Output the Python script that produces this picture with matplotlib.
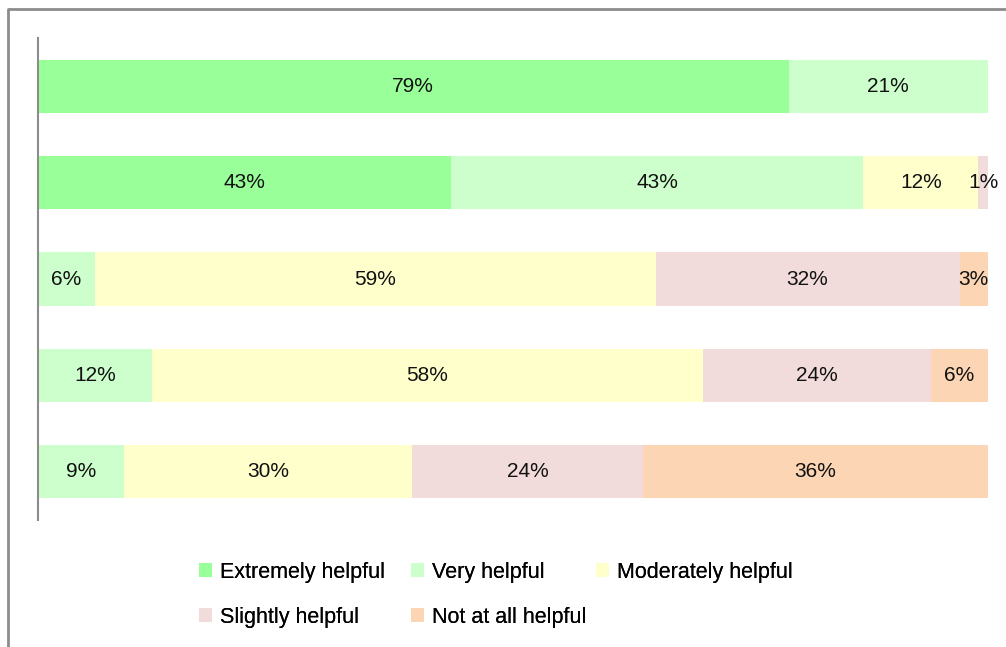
import matplotlib
matplotlib.use("Agg")
import matplotlib.pyplot as plt
from matplotlib.lines import Line2D
import numpy as np

plt.rcParams["font.family"] = ["Liberation Sans", "DejaVu Sans"]

categories = ["Extremely helpful", "Very helpful", "Moderately helpful",
              "Slightly helpful", "Not at all helpful"]
colors = ["#99FF99", "#CCFFCC", "#FFFFCC", "#F2DCDB", "#FCD5B4"]

# one list per response level, one value per bar (top to bottom), in %
extremely = [79, 43, 0, 0, 0]
very = [21, 43, 6, 12, 9]
moderately = [0, 12, 59, 58, 30]
slightly = [0, 1, 32, 24, 24]
not_at_all = [0, 0, 3, 6, 36]

series = np.array([extremely, very, moderately, slightly, not_at_all], dtype=float)
# 100% stacked, like the original chart
shares = series / series.sum(axis=0) * 100
rows = np.arange(series.shape[1])

fig = plt.figure(figsize=(10.06, 6.47), dpi=100)
ax = fig.add_axes([38 / 1006, 1 - 520 / 647, 950 / 1006, 482 / 647])

left = np.zeros(len(rows))
handles = []
for name, color, vals, shown in zip(categories, colors, shares, series):
    bars = ax.barh(rows, vals, left=left, height=0.55, color=color, label=name)
    handles.append(bars)
    for y, x0, w, v in zip(rows, left, vals, shown):
        if v > 0:
            ax.text(x0 + w / 2, y, f"{v:.0f}%", ha="center", va="center",
                    fontsize=15, color="#111111")
    left += vals

ax.set_xlim(0, 100)
ax.set_ylim(4.5, -0.5)
ax.set_xticks([])
ax.set_yticks([])
for side in ["top", "right", "bottom"]:
    ax.spines[side].set_visible(False)
ax.spines["left"].set_color("#8c8c8c")
ax.spines["left"].set_linewidth(1.5)

# legend laid out as in the original: three columns, filled row by row
columns = [[0, 3], [1, 4], [2]]
col_x = [199, 411, 596]
for idx, x in zip(columns, col_x):
    leg = fig.legend([handles[i] for i in idx], [categories[i] for i in idx],
                     loc="upper left", bbox_to_anchor=(x / 1006, 1 - 562 / 647),
                     frameon=False, fontsize=15.5, handlelength=0.62,
                     handleheight=0.62, handletextpad=0.35, labelspacing=1.1,
                     borderaxespad=0, borderpad=0)
    fig.add_artist(leg)

# outer chart frame (only left and top edges are inside the picture)
fx = 7.5 / 1006
fy = 1 - 8.5 / 647
fig.add_artist(Line2D([fx, fx, 1.0], [0.0, fy, fy], transform=fig.transFigure,
                      color="#8c8c8c", linewidth=2))

fig.savefig("out.png", dpi=100)
